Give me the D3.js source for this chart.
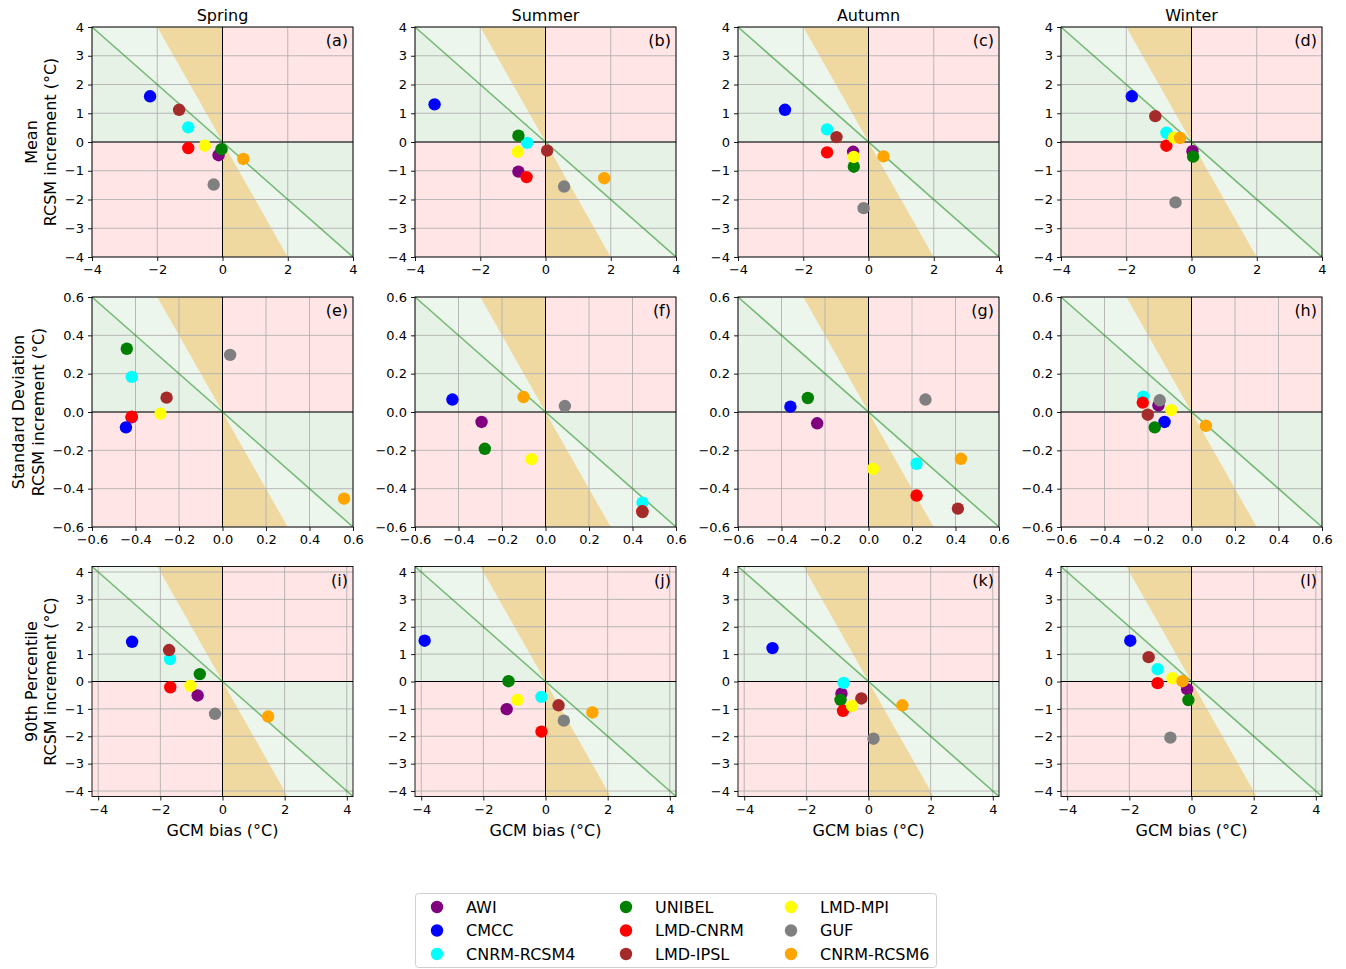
<!DOCTYPE html>
<html><head><meta charset="utf-8">
<script src="https://cdn.jsdelivr.net/npm/d3@7"></script>
<style>body{margin:0;background:#fff} text{font-family:"DejaVu Sans",sans-serif;fill:#000}</style>
</head><body><svg id="c" width="1346" height="969"></svg>
<script>
// ---------------- data ----------------
const seasons = ["Spring","Summer","Autumn","Winter"];
const rowNames = ["Mean","Standard Deviation","90th Percentile"];
const panelLetters = ["a","b","c","d","e","f","g","h","i","j","k","l"];
const models = ["AWI","CMCC","CNRM-RCSM4","UNIBEL","LMD-CNRM","LMD-IPSL","LMD-MPI","GUF","CNRM-RCSM6"];
const modelColors = ["purple","blue","cyan","green","red","brown","yellow","gray","orange"];

// GCM bias / RCSM increment, one inner array per season (model order as above)
const meanBias = [
  [-0.12,-2.22,-1.05,-0.03,-1.05,-1.33,-0.54,-0.27,0.64],
  [-0.83,-3.40,-0.56,-0.83,-0.58,0.05,-0.85,0.57,1.80],
  [-0.47,-2.56,-1.27,-0.45,-1.27,-0.98,-0.45,-0.15,0.46],
  [0.03,-1.83,-0.77,0.05,-0.77,-1.11,-0.54,-0.49,-0.35]
];
const meanInc = [
  [-0.46,1.59,0.51,-0.25,-0.21,1.12,-0.13,-1.48,-0.59],
  [-1.03,1.31,-0.03,0.22,-1.22,-0.30,-0.34,-1.55,-1.26],
  [-0.34,1.12,0.44,-0.86,-0.36,0.17,-0.52,-2.30,-0.50],
  [-0.32,1.59,0.32,-0.51,-0.13,0.90,0.15,-2.10,0.14]
];
const sdBias = [
  [-0.418,-0.444,-0.417,-0.44,-0.417,-0.257,-0.285,0.035,0.559],
  [-0.294,-0.428,0.446,-0.279,0.445,0.446,-0.064,0.089,-0.101],
  [-0.236,-0.359,0.221,-0.279,0.221,0.411,0.021,0.262,0.425],
  [-0.152,-0.124,-0.222,-0.169,-0.224,-0.201,-0.093,-0.146,0.066]
];
const sdInc = [
  [-0.028,-0.080,0.183,0.33,-0.024,0.075,-0.009,0.298,-0.452],
  [-0.052,0.065,-0.473,-0.192,-0.518,-0.522,-0.246,0.031,0.078],
  [-0.059,0.028,-0.270,0.073,-0.436,-0.504,-0.297,0.065,-0.244],
  [0.035,-0.052,0.080,-0.080,0.049,-0.014,0.010,0.061,-0.072]
];
const p90Bias = [
  [-0.80,-2.91,-1.69,-0.73,-1.68,-1.72,-1.03,-0.24,1.47],
  [-1.25,-3.89,-0.13,-1.19,-0.13,0.42,-0.90,0.59,1.51],
  [-0.87,-3.09,-0.80,-0.90,-0.82,-0.23,-0.53,0.16,1.09],
  [-0.14,-1.97,-1.09,-0.10,-1.09,-1.38,-0.61,-0.68,-0.29]
];
const p90Inc = [
  [-0.51,1.45,0.82,0.27,-0.21,1.15,-0.16,-1.18,-1.28],
  [-1.01,1.49,-0.56,0.01,-1.83,-0.87,-0.67,-1.43,-1.13],
  [-0.44,1.22,-0.05,-0.67,-1.07,-0.62,-0.89,-2.09,-0.87],
  [-0.28,1.49,0.45,-0.68,-0.06,0.89,0.12,-2.05,0.01]
];

// axis limits and ticks per row
const rowLimits = [4, 0.6, 4.2];
const meanTicksX = [-4,-2,0,2,4];
const meanTicksY = [-4,-3,-2,-1,0,1,2,3,4];
const sdTicks = [-0.6,-0.4,-0.2,0.0,0.2,0.4,0.6];
const p90TicksX = [-4,-2,0,2,4];
const p90TicksY = [-4,-3,-2,-1,0,1,2,3,4];

const rowBias = [meanBias, sdBias, p90Bias];
const rowInc = [meanInc, sdInc, p90Inc];
const rowTicksX = [meanTicksX, sdTicks, p90TicksX];
const rowTicksY = [meanTicksY, sdTicks, p90TicksY];
const rowFormat = [d3.format("d"), d3.format(".1f"), d3.format("d")];

// ---------------- layout ----------------
const svg = d3.select("#c");
const colLeft = [92, 415, 738, 1061];
const rowTop = [27, 297, 566.5];
const W = 261, H = 230;
const labelX = [[37, 56], [24, 44], [37, 56]];

const fillGreen = "rgba(0,128,0,0.1)";
const fillGreenLight = "rgba(0,128,0,0.07)";
const fillRed = "rgba(255,0,0,0.1)";
const fillTan = "rgba(218,165,32,0.42)";

rowNames.forEach((rn, r) => {
  const L = rowLimits[r];
  seasons.forEach((sn, c) => {
    const left = colLeft[c], top = rowTop[r];
    const x = d3.scaleLinear().domain([-L, L]).range([left, left + W]);
    const y = d3.scaleLinear().domain([-L, L]).range([top + H, top]);
    const g = svg.append("g");
    const poly = pts => pts.map(p => [x(p[0]), y(p[1])].join(",")).join(" ");
    // improvement regions (under-correction)
    g.append("polygon").attr("points", poly([[-L,L],[-L,0],[0,0]])).attr("fill", fillGreen);
    g.append("polygon").attr("points", poly([[L,-L],[L,0],[0,0]])).attr("fill", fillGreen);
    // improvement regions (over-correction)
    g.append("polygon").attr("points", poly([[-L,L],[-L/2,L],[0,0]])).attr("fill", fillGreenLight);
    g.append("polygon").attr("points", poly([[L,-L],[L/2,-L],[0,0]])).attr("fill", fillGreenLight);
    // degradation regions
    g.append("polygon").attr("points", poly([[0,L],[L,L],[L,0],[0,0]])).attr("fill", fillRed);
    g.append("polygon").attr("points", poly([[-L,0],[0,0],[0,-L],[-L,-L]])).attr("fill", fillRed);
    // over-correction wedges
    g.append("polygon").attr("points", poly([[-L/2,L],[0,L],[0,0]])).attr("fill", fillTan);
    g.append("polygon").attr("points", poly([[0,0],[0,-L],[L/2,-L]])).attr("fill", fillTan);

    // grid
    const tx = rowTicksX[r], ty = rowTicksY[r];
    g.selectAll(".gx").data(tx).enter().append("line")
      .attr("x1", d => x(d)).attr("x2", d => x(d)).attr("y1", top).attr("y2", top + H)
      .attr("stroke", "#b0b0b0").attr("stroke-width", 0.9);
    g.selectAll(".gy").data(ty).enter().append("line")
      .attr("y1", d => y(d)).attr("y2", d => y(d)).attr("x1", left).attr("x2", left + W)
      .attr("stroke", "#b0b0b0").attr("stroke-width", 0.9);

    // zero lines
    g.append("line").attr("x1", x(0)).attr("x2", x(0)).attr("y1", top).attr("y2", top + H)
      .attr("stroke", "#000").attr("stroke-width", 1);
    g.append("line").attr("y1", y(0)).attr("y2", y(0)).attr("x1", left).attr("x2", left + W)
      .attr("stroke", "#000").attr("stroke-width", 1);
    // 1:1 correction line
    g.append("line").attr("x1", x(-L)).attr("y1", y(L)).attr("x2", x(L)).attr("y2", y(-L))
      .attr("stroke", "green").attr("stroke-opacity", 0.5).attr("stroke-width", 1.6);

    // points
    const bias = rowBias[r][c], inc = rowInc[r][c];
    g.selectAll("circle").data(models).enter().append("circle")
      .attr("cx", (m, i) => x(bias[i])).attr("cy", (m, i) => y(inc[i]))
      .attr("r", 6.2).attr("fill", (m, i) => modelColors[i]);

    // frame
    g.append("rect").attr("x", left).attr("y", top).attr("width", W).attr("height", H)
      .attr("fill", "none").attr("stroke", "#000").attr("stroke-width", 0.9);

    // axes
    const ax = g.append("g").attr("transform", `translate(0,${top + H})`)
      .call(d3.axisBottom(x).tickValues(tx).tickFormat(rowFormat[r]).tickSize(4).tickSizeOuter(0).tickPadding(4));
    const ay = g.append("g").attr("transform", `translate(${left},0)`)
      .call(d3.axisLeft(y).tickValues(ty).tickFormat(rowFormat[r]).tickSize(4).tickSizeOuter(0).tickPadding(4));
    [ax, ay].forEach(a => {
      a.select(".domain").remove();
      a.selectAll("text").attr("font-size", "13px").attr("font-family", "DejaVu Sans").attr("fill", "#000");
      a.selectAll("line").attr("stroke", "#000").attr("stroke-width", 0.9);
    });

    // panel letter
    g.append("text").attr("x", left + W - 5).attr("y", top + 19).attr("text-anchor", "end")
      .attr("font-size", "16px").text("(" + panelLetters[r * 4 + c] + ")");

    if (r === 0) {
      g.append("text").attr("x", left + W / 2).attr("y", top - 6).attr("text-anchor", "middle")
        .attr("font-size", "16px").text(sn);
    }
    if (r === 2) {
      g.append("text").attr("x", left + W / 2).attr("y", top + H + 39.5).attr("text-anchor", "middle")
        .attr("font-size", "16px").text("GCM bias (°C)");
    }
    if (c === 0) {
      const cy = top + H / 2;
      g.append("text").attr("transform", `translate(${labelX[r][0]},${cy}) rotate(-90)`).attr("text-anchor", "middle")
        .attr("font-size", "16px").text(rn);
      g.append("text").attr("transform", `translate(${labelX[r][1]},${cy}) rotate(-90)`).attr("text-anchor", "middle")
        .attr("font-size", "16px").text("RCSM increment (°C)");
    }
  });
});

// ---------------- legend ----------------
const lg = svg.append("g");
lg.append("rect").attr("x", 415.5).attr("y", 893.5).attr("width", 521).attr("height", 74).attr("rx", 3)
  .attr("fill", "#fff").attr("stroke", "#d0d0d0").attr("stroke-width", 1);
const legColX = [437, 626, 791];
const legRowY = [907, 930.5, 954];
models.forEach((m, i) => {
  const col = Math.floor(i / 3), row = i % 3;
  lg.append("circle").attr("cx", legColX[col]).attr("cy", legRowY[row]).attr("r", 6.2).attr("fill", modelColors[i]);
  lg.append("text").attr("x", legColX[col] + 29).attr("y", legRowY[row] + 5.5).attr("font-size", "16px").text(m);
});
</script></body></html>
